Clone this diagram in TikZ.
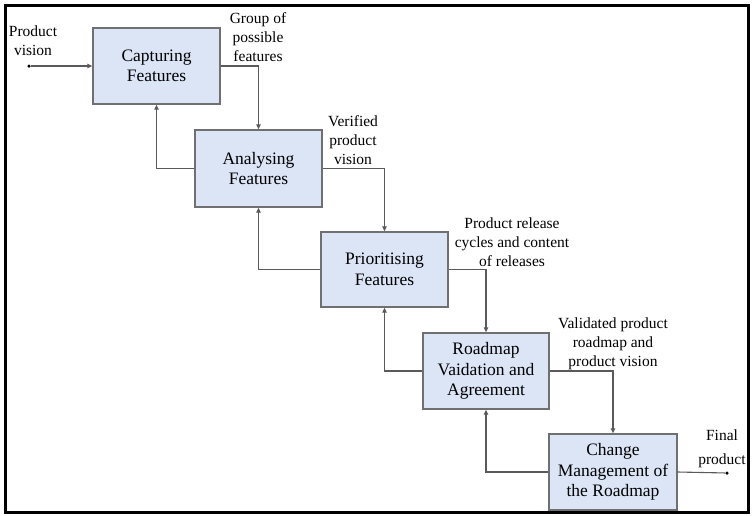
\documentclass[tikz,border=0pt]{standalone}
\usepackage{fontspec}
\setmainfont{Liberation Serif}
\newfontfamily\tnr{Liberation Serif}
\usetikzlibrary{arrows.meta}
\definecolor{boxfill}{HTML}{DBE5F6}
\definecolor{boxline}{HTML}{707070}
\definecolor{conn}{HTML}{5A5A5A}
\begin{document}
\begin{tikzpicture}[x=1pt,y=-1pt,
  stage/.style={draw=boxline, fill=boxfill, line width=1.4pt, align=center,
    font=\tnr\fontsize{17.5}{20.5}\selectfont, inner sep=0pt},
  lbl/.style={align=center, font=\tnr\fontsize{15.5}{19}\selectfont, inner sep=0pt},
  link/.style={draw=conn, line width=1.1pt, -{Triangle[length=5pt,width=4.5pt]}},
  plain/.style={draw=conn, line width=1.1pt},
  enddot/.style={circle, fill=black, inner sep=0pt, minimum size=3.5pt}]
\useasboundingbox (0,0) rectangle (752,515);
\draw[line width=2.6pt] (5.5,5.5) rectangle (748.5,512.5);

\node[stage, minimum width=127pt, minimum height=76pt] (cap) at (156.5,66) {Capturing\\Features};
\node[stage, minimum width=127pt, minimum height=77pt] (ana) at (258.5,168.5) {Analysing\\Features};
\node[stage, minimum width=127pt, minimum height=75pt] (pri) at (384.5,269.5) {Prioritising\\Features};
\node[stage, minimum width=126pt, minimum height=76pt] (road) at (486,371) {Roadmap\\Vaidation and\\Agreement};
\node[stage, minimum width=128pt, minimum height=76pt] (chg) at (613,472) {Change\\Management of\\the Roadmap};

\node[enddot] (pv) at (29,66) {};
\node[enddot] (fp) at (727,473) {};

\draw[link] (pv) -- (cap.west);
\draw[link] (cap.east) -| (ana.north);
\draw[link] (ana.west) -| (cap.south);
\draw[link] (ana.east) -| (pri.north);
\draw[link] (pri.west) -| (ana.south);
\draw[link] (pri.east) -| (road.north);
\draw[link] (road.west) -| (pri.south);
\draw[link] (road.east) -| (chg.north);
\draw[link] (chg.west) -| (road.south);
\draw[plain] (chg.east) -- (fp);

\node[lbl] (tpv) at (33,41) {Product\\vision};
\node[lbl] (tg) at (258,37.5) {Group of\\possible\\features};
\node[lbl] (tv) at (353,140) {Verified\\product\\vision};
\node[lbl] (tp) at (512,242) {Product release\\cycles and content\\of releases};
\node[lbl] (tval) at (613,344) {Validated product\\roadmap and\\product vision};
\node[lbl, font=\tnr\fontsize{15.5}{24}\selectfont] (tf) at (722,449) {Final\\product};
\end{tikzpicture}
\end{document}
